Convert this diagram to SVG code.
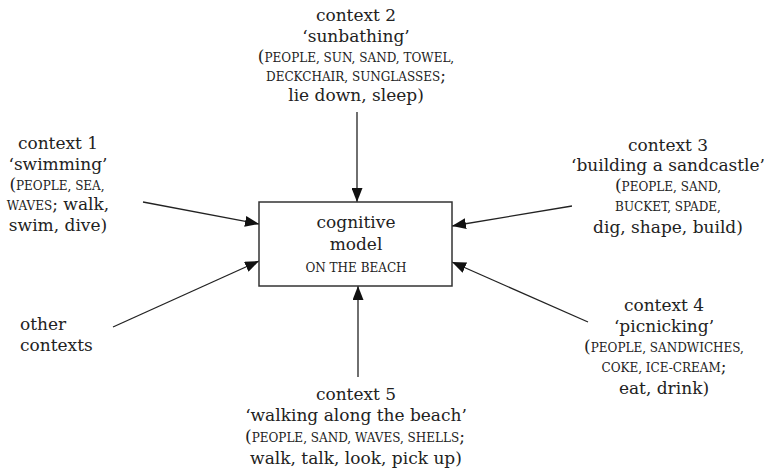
<svg xmlns="http://www.w3.org/2000/svg" width="765" height="471" viewBox="0 0 765 471">
<defs>
<style>
text{font-family:"DejaVu Serif","Liberation Serif",serif;font-size:17px;fill:#222;text-anchor:middle}
.sc{font-size:12px}
.l{text-anchor:start}
.conn line{stroke:#222;stroke-width:1.3;fill:none}
</style>
<marker id="ah" viewBox="0 0 14 11" refX="14" refY="5.5" markerWidth="14" markerHeight="11" markerUnits="userSpaceOnUse" orient="auto">
<path d="M0,0 L14,5.5 L0,11 Z" fill="#111"/>
</marker>
</defs>
<rect width="765" height="471" fill="#fff"/>
<g id="connectors" class="conn">
<line x1="357" y1="112" x2="357" y2="202" marker-end="url(#ah)"/>
<line x1="143" y1="202" x2="259" y2="224" marker-end="url(#ah)"/>
<line x1="113" y1="327" x2="259" y2="261" marker-end="url(#ah)"/>
<line x1="572" y1="206" x2="452" y2="226" marker-end="url(#ah)"/>
<line x1="588" y1="322" x2="452" y2="262" marker-end="url(#ah)"/>
<line x1="358" y1="377" x2="358" y2="286" marker-end="url(#ah)"/>
</g>
<g id="model">
<rect x="259" y="202" width="193" height="84" fill="#fff" stroke="#333" stroke-width="1.5"/>
<text x="356" y="228">cognitive</text>
<text x="356" y="250">model</text>
<text x="356" y="272" class="sc">ON THE BEACH</text>
</g>
<g id="context1">
<text x="58" y="149">context 1</text>
<text x="58" y="170">‘swimming’</text>
<text x="57" y="190">(<tspan class="sc">PEOPLE, SEA,</tspan></text>
<text x="58" y="210"><tspan class="sc">WAVES</tspan>; walk,</text>
<text x="58" y="231">swim, dive)</text>
</g>
<g id="context2">
<text x="356" y="21">context 2</text>
<text x="356" y="42">‘sunbathing’</text>
<text x="356" y="62">(<tspan class="sc">PEOPLE, SUN, SAND, TOWEL,</tspan></text>
<text x="356" y="81"><tspan class="sc">DECKCHAIR, SUNGLASSES</tspan>;</text>
<text x="356" y="101">lie down, sleep)</text>
</g>
<g id="context3">
<text x="668" y="151">context 3</text>
<text x="668" y="171">‘building a sandcastle’</text>
<text x="668" y="191">(<tspan class="sc">PEOPLE, SAND,</tspan></text>
<text x="668" y="211" class="sc">BUCKET, SPADE,</text>
<text x="668" y="233">dig, shape, build)</text>
</g>
<g id="context4">
<text x="664" y="311">context 4</text>
<text x="664" y="332">‘picnicking’</text>
<text x="664" y="352">(<tspan class="sc">PEOPLE, SANDWICHES,</tspan></text>
<text x="664" y="372"><tspan class="sc">COKE, ICE-CREAM</tspan>;</text>
<text x="664" y="394">eat, drink)</text>
</g>
<g id="context5">
<text x="356" y="400">context 5</text>
<text x="356" y="421">‘walking along the beach’</text>
<text x="355" y="442">(<tspan class="sc">PEOPLE, SAND, WAVES, SHELLS</tspan>;</text>
<text x="356" y="464">walk, talk, look, pick up)</text>
</g>
<g id="other">
<text x="20" y="330" class="l">other</text>
<text x="20" y="351" class="l">contexts</text>
</g>
</svg>
